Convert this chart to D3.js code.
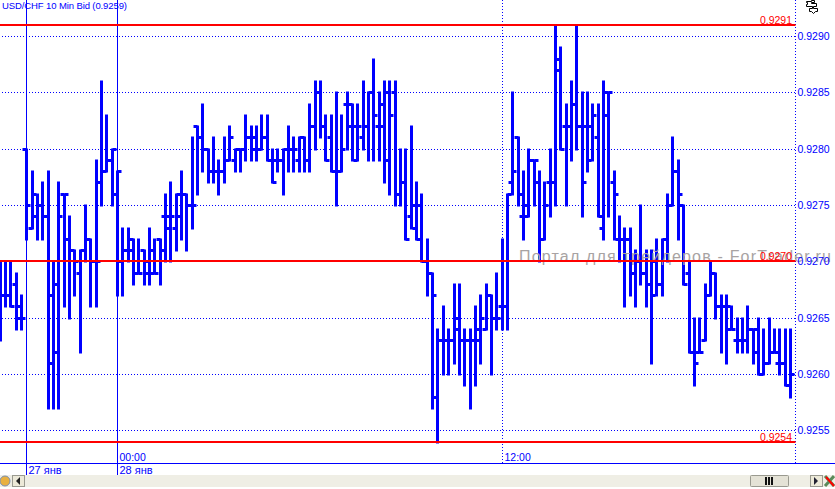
<!DOCTYPE html>
<html><head><meta charset="utf-8">
<script src="https://cdn.jsdelivr.net/npm/d3@7/dist/d3.min.js"></script>
<style>html,body{margin:0;padding:0;background:#fff;overflow:hidden}svg{display:block}text{font-family:"Liberation Sans",Arial,sans-serif}</style>
</head><body><svg id="c" width="835" height="489"></svg>
<script>
// prices are stored in 1/10000 units (9270 = 0.9270)
const highs=[9270,9270,9270,9269,9267,9280,9278,9276,9277,9278,9270,9277,9276,9274,9271,9271,9275,9272,9279,9286,9283,9280,9278,9273,9273,9272,9272,9271,9273,9272,9272,9276,9277,9276,9278,9276,9281,9282,9284,9280,9281,9279,9281,9282,9280,9280,9283,9282,9282,9283,9283,9280,9280,9280,9282,9281,9281,9281,9284,9286,9286,9283,9283,9285,9283,9285,9284,9284,9286,9285,9288,9285,9286,9286,9286,9280,9280,9282,9277,9276,9272,9269,9264,9266,9264,9268,9268,9264,9264,9266,9267,9268,9267,9269,9272,9276,9285,9281,9278,9280,9279,9278,9277,9280,9291,9289,9284,9286,9291,9285,9285,9284,9284,9286,9285,9278,9274,9273,9273,9271,9275,9271,9271,9272,9272,9276,9281,9279,9275,9270,9265,9265,9268,9270,9269,9267,9267,9266,9265,9265,9266,9264,9265,9264,9265,9264,9264,9264,9264];
const lows=[9263,9266,9266,9264,9264,9272,9273,9272,9272,9257,9257,9257,9266,9265,9267,9262,9270,9266,9266,9275,9278,9275,9267,9267,9270,9268,9269,9268,9268,9269,9268,9270,9270,9271,9272,9271,9273,9276,9278,9277,9277,9276,9277,9279,9278,9278,9279,9279,9279,9280,9279,9277,9278,9276,9278,9278,9278,9278,9278,9280,9281,9279,9278,9275,9278,9280,9279,9279,9280,9279,9279,9279,9277,9276,9275,9275,9272,9273,9272,9270,9267,9257,9254,9260,9260,9261,9260,9259,9257,9259,9261,9264,9260,9264,9264,9264,9276,9275,9272,9274,9275,9270,9272,9274,9275,9280,9275,9279,9280,9274,9278,9279,9274,9272,9274,9272,9270,9266,9267,9266,9268,9266,9261,9267,9267,9270,9275,9272,9268,9262,9259,9262,9263,9267,9265,9262,9261,9264,9262,9262,9262,9261,9260,9260,9261,9262,9260,9259,9258];
const opens=[9267,9267,9267,9268,9265,9280,9273,9274,9275,9274,9261,9262,9276,9272,9271,9269,9271,9272,9270,9277,9278,9279,9276,9270,9271,9272,9269,9271,9269,9269,9272,9274,9274,9273,9274,9276,9275,9282,9281,9280,9278,9278,9278,9279,9279,9280,9280,9281,9281,9280,9281,9279,9279,9279,9280,9280,9279,9281,9279,9282,9285,9282,9281,9278,9278,9284,9284,9279,9281,9282,9285,9282,9282,9285,9285,9276,9277,9274,9273,9275,9270,9269,9258,9263,9263,9263,9264,9263,9263,9263,9263,9264,9267,9265,9266,9266,9277,9281,9274,9274,9279,9277,9272,9277,9277,9287,9282,9282,9284,9282,9282,9282,9281,9273,9285,9277,9272,9272,9272,9269,9270,9269,9268,9270,9268,9272,9275,9278,9275,9269,9262,9262,9263,9267,9269,9266,9266,9264,9263,9263,9263,9264,9262,9260,9261,9262,9261,9261,9259];
const closes=[9267,9267,9266,9266,9265,9275,9276,9275,9274,9267,9268,9274,9276,9271,9270,9271,9272,9270,9270,9278,9279,9280,9278,9271,9271,9269,9269,9270,9271,9269,9271,9273,9274,9276,9276,9275,9275,9281,9280,9278,9278,9278,9279,9281,9280,9280,9281,9280,9280,9281,9279,9277,9279,9280,9280,9280,9281,9279,9282,9285,9282,9279,9278,9278,9280,9282,9282,9282,9282,9285,9283,9284,9279,9283,9276,9277,9272,9275,9272,9270,9269,9267,9263,9263,9263,9265,9263,9263,9263,9264,9265,9267,9265,9265,9266,9276,9278,9276,9275,9279,9279,9272,9275,9277,9288,9280,9282,9284,9282,9277,9279,9283,9274,9283,9285,9276,9272,9272,9269,9270,9269,9268,9267,9268,9272,9275,9278,9276,9268,9262,9261,9262,9267,9269,9266,9266,9266,9264,9263,9263,9264,9264,9260,9261,9262,9262,9261,9259,9260];
const gridTicks=[9255,9260,9265,9270,9275,9280,9285,9290];
const redLevels=[9291,9270,9254];
const timeMarks=[{i:22,label:"00:00"},{i:94,label:"12:00"}];
const dateMarks=[{i:5,label:"27 янв"},{i:22,label:"28 янв"}];
const title="USD/CHF 10 Min Bid (0.9259)";
const watermark="Портал для трейдеров - ForTrader.ru";
const BLUE="#0000ff",RED="#ff0000";
const fmt=v=>(v/10000).toFixed(4);

const svg=d3.select("#c");
const x=d3.scaleLinear().domain([0,148]).range([0,790.5]);
const y=d3.scaleLinear().domain([9255,9290]).range([430.4,36]);
const px=i=>Math.floor(x(i))+.5;
const py=v=>Math.round(y(v))+.5;
const axisX=795.5,bottomY=463.5;

// grid
svg.append("g").selectAll("line").data(gridTicks).join("line")
 .attr("x1",2).attr("x2",axisX).attr("y1",d=>py(d)).attr("y2",d=>py(d))
 .attr("stroke",BLUE).attr("stroke-dasharray","1,2");
// vertical separators
svg.append("line").attr("x1",axisX).attr("x2",axisX).attr("y1",0).attr("y2",bottomY).attr("stroke",BLUE).attr("stroke-dasharray","1,2");
svg.append("g").selectAll("line").data(dateMarks).join("line")
 .attr("x1",d=>px(d.i)).attr("x2",d=>px(d.i)).attr("y1",0).attr("y2",475).attr("stroke",BLUE);
svg.append("line").attr("x1",px(94)).attr("x2",px(94)).attr("y1",0).attr("y2",bottomY).attr("stroke",BLUE).attr("stroke-dasharray","1,2");
svg.append("line").attr("x1",0).attr("x2",835).attr("y1",bottomY).attr("y2",bottomY).attr("stroke",BLUE);

// bars
const bars=svg.append("g").attr("stroke",BLUE).attr("stroke-width",3);
bars.selectAll("line.hl").data(highs).join("line").attr("class","hl")
 .attr("x1",(d,i)=>px(i)).attr("x2",(d,i)=>px(i)).attr("y1",d=>py(d)-1).attr("y2",(d,i)=>py(lows[i])+1);
bars.selectAll("line.o").data(opens).join("line").attr("class","o")
 .attr("x1",(d,i)=>px(i)-4).attr("x2",(d,i)=>px(i)).attr("y1",d=>py(d)).attr("y2",d=>py(d));
bars.selectAll("line.c").data(closes).join("line").attr("class","c")
 .attr("x1",(d,i)=>px(i)).attr("x2",(d,i)=>px(i)+4).attr("y1",d=>py(d)).attr("y2",d=>py(d));

// watermark above the bars, below the red levels
svg.append("text").attr("x",519).attr("y",262).attr("fill","#a8a3a3").attr("font-size",16)
 .attr("textLength",312).text(watermark);

// red levels
svg.append("g").selectAll("line").data(redLevels).join("line")
 .attr("x1",0).attr("x2",axisX).attr("y1",d=>Math.round(y(d))).attr("y2",d=>Math.round(y(d)))
 .attr("stroke",RED).attr("stroke-width",2);
svg.append("g").selectAll("text").data(redLevels).join("text")
 .attr("x",792).attr("y",d=>Math.round(y(d))-1).attr("text-anchor","end").attr("fill",RED).attr("font-size",10.5)
 .text(fmt);

// y axis
const ax=svg.append("g").attr("transform",`translate(${axisX},0)`)
 .call(d3.axisRight(y).tickValues(gridTicks).tickFormat(fmt).tickSize(0).tickPadding(2));
ax.select(".domain").remove();
ax.selectAll("text").attr("fill",BLUE).attr("font-size",10.5).attr("font-family",'"Liberation Sans",Arial,sans-serif');

// time and date labels
svg.append("g").selectAll("text").data(timeMarks).join("text")
 .attr("x",d=>px(d.i)+2).attr("y",461).attr("fill",BLUE).attr("font-size",10.5).text(d=>d.label);
svg.append("g").selectAll("text").data(dateMarks).join("text")
 .attr("x",d=>px(d.i)+2).attr("y",474).attr("fill",BLUE).attr("font-size",11).text(d=>d.label);

// title
svg.append("text").attr("x",2).attr("y",9).attr("fill",BLUE).attr("font-size",9.5).attr("textLength",125).attr("lengthAdjust","spacing").text(title);

// top-right icon
svg.append("path").attr("d","M806.5 1.5h5v-1h3v2h-3v1h5v3h-3v2h4v3h-2l-2 2-2-2h-2v-3h3v-2h-6v-2h1v-2h-1z")
 .attr("fill","#fff").attr("stroke","#000");

// status strip
svg.append("rect").attr("x",0).attr("y",475).attr("width",835).attr("height",12).attr("fill","#efeee5");
svg.append("rect").attr("x",0).attr("y",487).attr("width",835).attr("height",2).attr("fill","#fff");
svg.append("circle").attr("cx",5).attr("cy",481).attr("r",5).attr("fill","#e8b040").attr("stroke","#7a8fb0");
svg.append("rect").attr("x",12.5).attr("y",475.5).attr("width",12).attr("height",11).attr("fill","#ece9d8").attr("stroke","#9a9a90");
svg.append("path").attr("d","M16 481l4-4v8z").attr("fill","#222");
svg.append("rect").attr("x",750.5).attr("y",475.5).attr("width",38).attr("height",11).attr("rx",1).attr("fill","#e4e2d6").attr("stroke","#9a9a90");
svg.append("path").attr("d","M765 477h2v8h-2zM768 477h2v8h-2zM771 477h2v8h-2z").attr("fill","#111");
svg.append("rect").attr("x",810.5).attr("y",475.5).attr("width",12).attr("height",11).attr("fill","#ece9d8").attr("stroke","#9a9a90");
svg.append("path").attr("d","M814 477l4 4-4 4z").attr("fill","#223");
svg.append("path").attr("d","M825 476l9 10M834 476l-9 10").attr("stroke","#5a8a5a").attr("stroke-width",3);
svg.append("path").attr("d","M826 477l8 9").attr("stroke",RED).attr("stroke-width",2);
</script></body></html>
